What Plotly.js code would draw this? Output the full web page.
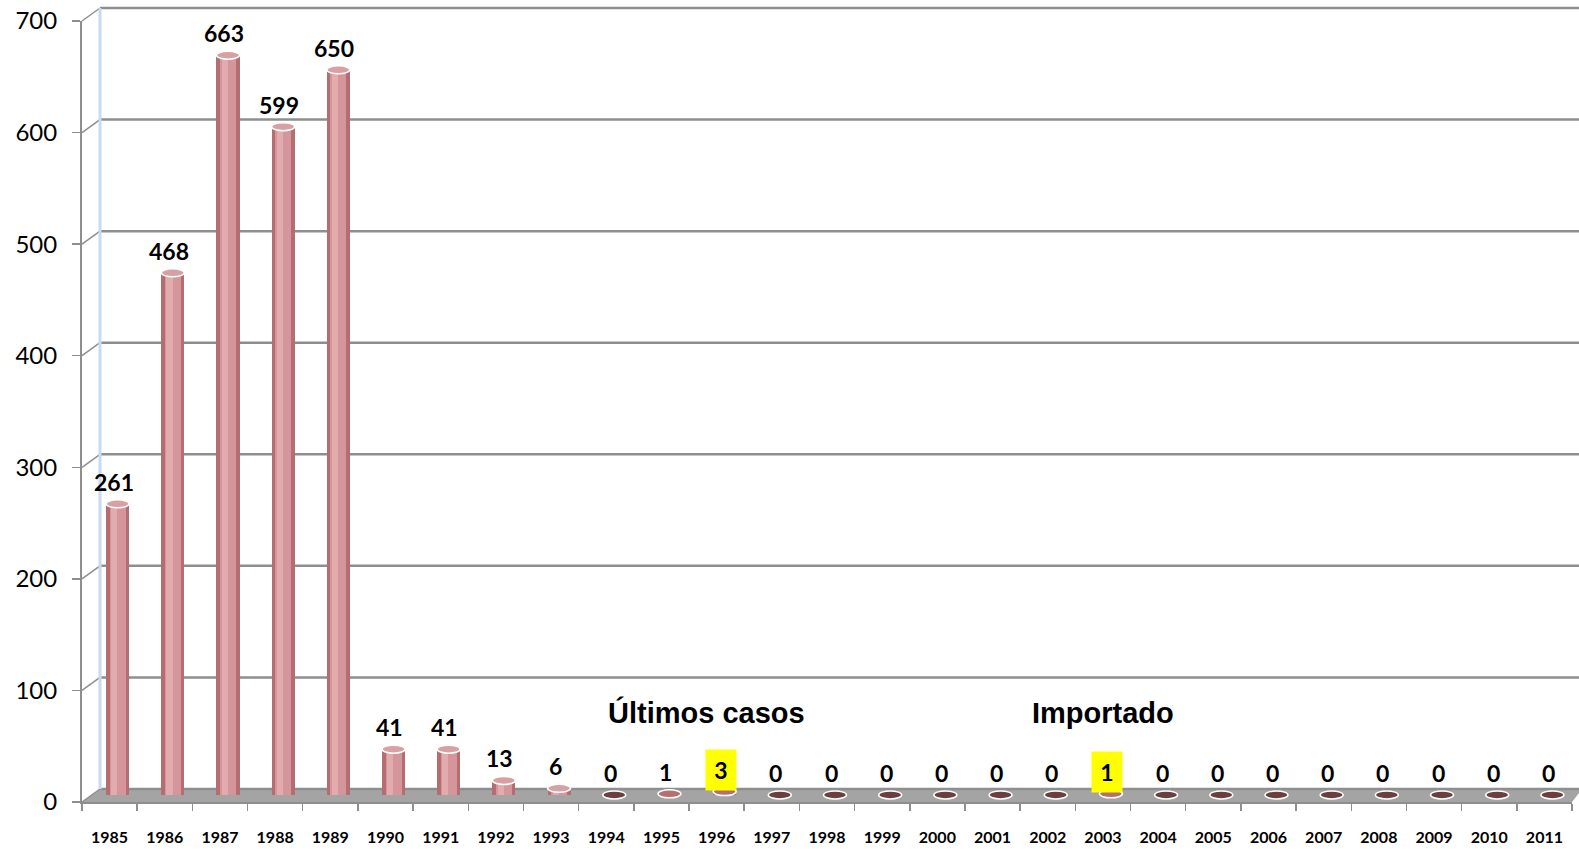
<!DOCTYPE html>
<html>
<head>
<meta charset="utf-8">
<script src="https://cdn.plot.ly/plotly-3.0.1.min.js"></script>
<style>html,body{margin:0;padding:0;background:#fff;}#chart{width:1579px;height:849px;}</style>
</head>
<body>
<div id="chart"></div>
<script>
// ---- data ----
const years = ['1985','1986','1987','1988','1989','1990','1991','1992','1993','1994','1995','1996','1997','1998','1999','2000','2001','2002','2003','2004','2005','2006','2007','2008','2009','2010','2011'];
const cases = [261,468,663,599,650,41,41,13,6,0,1,3,0,0,0,0,0,0,1,0,0,0,0,0,0,0,0];
const highlightYears = ['1996','2003'];
const noteYears = ['1996','2003'];
const noteTexts = ['Últimos casos','Importado'];
const noteLevel = 80;
const yTicks = [0,100,200,300,400,500,600,700];
const yMax = 700;

// ---- style ----
const BASE = 6.3;          // 3D depth lift (data units)
const DEPTH_X = 18, DEPTH_Y = 13;
const gridColor = '#8e8e8e';
const PLOT_W = 1579 - 82 - 7;
const noteShift = [-10, 0];

const barLayers = [
  {width:0.417, offset:-0.063, color:'#b46e71'},
  {width:0.29,  offset:0.0,    color:'#d4969a'},
  {width:0.11,  offset:0.03,   color:'#e2abad'}
];
const traces = barLayers.map(l => ({
  type:'bar', x:years, y:cases, base:BASE, width:l.width, offset:l.offset,
  marker:{color:l.color, line:{width:0}}, hoverinfo:'skip', showlegend:false
}));

const idx = yr => years.indexOf(yr);

const shapes = [];
// floor
shapes.push({type:'path', xref:'paper', yref:'paper', xsizemode:'pixel', ysizemode:'pixel',
  xanchor:0, yanchor:0, path:`M 0 0 L ${DEPTH_X} ${DEPTH_Y} L ${PLOT_W+10} ${DEPTH_Y} L ${PLOT_W} 0 Z`,
  fillcolor:'#a4a4a4', line:{width:0}, layer:'below'});
// back wall gridlines + slants
yTicks.forEach(t => {
  shapes.push({type:'line', xref:'paper', yref:'paper', xsizemode:'pixel', ysizemode:'pixel',
    xanchor:0, yanchor:t/yMax, x0:DEPTH_X, x1:PLOT_W+10, y0:DEPTH_Y, y1:DEPTH_Y,
    line:{color:gridColor, width:2.5}, layer:'below'});
  shapes.push({type:'line', xref:'paper', yref:'paper', xsizemode:'pixel', ysizemode:'pixel',
    xanchor:0, yanchor:t/yMax, x0:0, x1:DEPTH_X, y0:0, y1:DEPTH_Y,
    line:{color:gridColor, width:1.5}, layer:'below'});
});
// back wall left edge (light blue)
shapes.push({type:'line', xref:'paper', yref:'paper', xsizemode:'pixel', ysizemode:'pixel',
  xanchor:0, yanchor:0, x0:DEPTH_X, x1:DEPTH_X, y0:DEPTH_Y, y1:DEPTH_Y+781,
  line:{color:'#c6daf2', width:3}, layer:'below'});
// cylinder tops
years.forEach((yr,i) => {
  shapes.push({type:'circle', xref:'x', yref:'y', xsizemode:'pixel', ysizemode:'pixel',
    xanchor:i, yanchor:cases[i]+BASE, x0:-3.5, x1:19.5, y0:-4, y1:4,
    fillcolor: cases[i]===0 ? '#6b3e40' : (cases[i] < 5 ? '#b27072' : '#d9a0a3'),
    line:{color:'#ffffff', width:1.5}, layer:'above'});
});

const annotations = [];
years.forEach((yr,i) => {
  const hl = highlightYears.includes(yr);
  annotations.push({x:i, y:cases[i]+BASE, xref:'x', yref:'y', text:String(cases[i]),
    showarrow:false, xshift:4, yshift:22, yanchor:'middle',
    font:{family:'Lato, sans-serif', size:23, color:'#000', weight:'bold'},
    bgcolor: hl ? '#ffff00' : 'rgba(0,0,0,0)', width: hl ? 30 : undefined, height: hl ? 40 : undefined,
    valign:'middle', borderpad:0});
});
noteYears.forEach((yr,i) => {
  annotations.push({x:idx(yr), y:noteLevel, xref:'x', yref:'y', text:noteTexts[i], showarrow:false,
    xshift:noteShift[i], yanchor:'middle',
    font:{family:'Liberation Sans, Arial, sans-serif', size:29, color:'#000', weight:'bold'}});
});

const layout = {
  width:1579, height:849,
  margin:{l:82, r:7, t:21, b:47, pad:0},
  paper_bgcolor:'#fff', plot_bgcolor:'rgba(0,0,0,0)',
  barmode:'overlay', bargap:0,
  showlegend:false,
  xaxis:{type:'category', categoryorder:'array', categoryarray:years,
    range:[-0.5, years.length-0.5], autorange:false,
    tickson:'boundaries', ticks:'outside', ticklen:7, tickwidth:1.5, tickcolor:gridColor,
    showline:true, linecolor:gridColor, linewidth:2, showgrid:false, zeroline:false,
    tickfont:{family:'Lato, sans-serif', size:16, color:'#000', weight:'bold'},
    ticklabelstandoff:20, fixedrange:true},
  yaxis:{range:[0,yMax], autorange:false, tickmode:'array', tickvals:yTicks, ticktext:yTicks.map(String),
    ticks:'outside', ticklen:8, tickwidth:1.5, tickcolor:gridColor,
    showline:true, linecolor:gridColor, linewidth:2, showgrid:false, zeroline:false,
    tickfont:{family:'Lato, sans-serif', size:24, color:'#000'},
    ticklabelstandoff:10, fixedrange:true},
  shapes:shapes, annotations:annotations
};

Plotly.newPlot('chart', traces, layout, {staticPlot:true, displayModeBar:false});
</script>
</body>
</html>
